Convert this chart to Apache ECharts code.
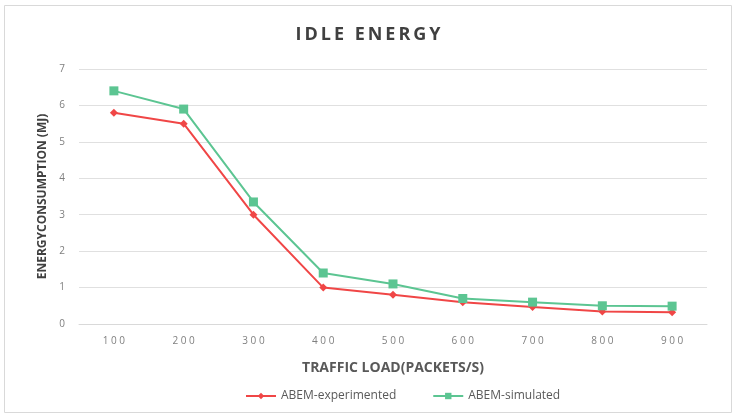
<!DOCTYPE html>
<html><head><meta charset="utf-8">
<script src="https://cdn.jsdelivr.net/npm/echarts@6/dist/echarts.min.js"></script>
<style>html,body{margin:0;padding:0;background:#fff}#c{width:736px;height:417px}</style>
</head><body><div id="c"></div>
<script>
const categories = ['100','200','300','400','500','600','700','800','900'];
const experimented = [5.8, 5.5, 3.0, 1.0, 0.8, 0.6, 0.47, 0.34, 0.32];
const simulated = [6.4, 5.9, 3.35, 1.4, 1.1, 0.7, 0.6, 0.5, 0.49];
const yTicks = [0,1,2,3,4,5,6,7];
const titleText = 'IDLE ENERGY';

const chart = echarts.init(document.getElementById('c'));
chart.setOption({
  animation:false,
  graphic:[{type:'rect',shape:{x:4.5,y:5.5,width:727,height:407},style:{fill:'none',stroke:'#d9d9d9',lineWidth:1},silent:true}],
  title:{text:titleText.split('').join('\u2009'),left:'center',top:21,textStyle:{fontFamily:'Open Sans',fontWeight:'bold',fontSize:18,color:'#404040'}},
  grid:{left:79,right:29,top:69,bottom:93},
  legend:{bottom:10,left:240,itemGap:36,itemWidth:30,itemHeight:8,textStyle:{fontFamily:'Open Sans',fontSize:12,color:'#595959'},
    data:['ABEM-experimented','ABEM-simulated']},
  xAxis:{type:'category',data:categories,boundaryGap:true,
    name:'TRAFFIC LOAD(PACKETS/S)',nameLocation:'middle',nameGap:37,
    nameTextStyle:{fontFamily:'Open Sans',fontWeight:'bold',fontSize:14,color:'#595959'},
    axisLine:{lineStyle:{color:'#d9d9d9'}},axisTick:{show:false},
    axisLabel:{fontFamily:'Open Sans',fontSize:10,color:'#7f7f7f',margin:12,formatter:v=>v.split('').join(' ')}},
  yAxis:{type:'value',min:yTicks[0],max:yTicks[yTicks.length-1],interval:1,
    name:'ENERGYCONSUMPTION (MJ)',nameLocation:'middle',nameGap:29,nameRotate:90,
    nameTextStyle:{fontFamily:'Open Sans',fontWeight:'bold',fontSize:12,color:'#404040'},
    axisLine:{show:false},axisTick:{show:false},
    axisLabel:{fontFamily:'Open Sans',fontSize:10,color:'#7f7f7f',margin:14},
    splitLine:{lineStyle:{color:'#e0e0e0'}}},
  series:[
    {name:'ABEM-experimented',type:'line',data:experimented,symbol:'diamond',symbolSize:8,
      lineStyle:{color:'#f04646',width:2},itemStyle:{color:'#f04646'}},
    {name:'ABEM-simulated',type:'line',data:simulated,symbol:'rect',symbolSize:9,
      lineStyle:{color:'#5cc592',width:2},itemStyle:{color:'#5cc592'}}
  ]
});
</script></body></html>
